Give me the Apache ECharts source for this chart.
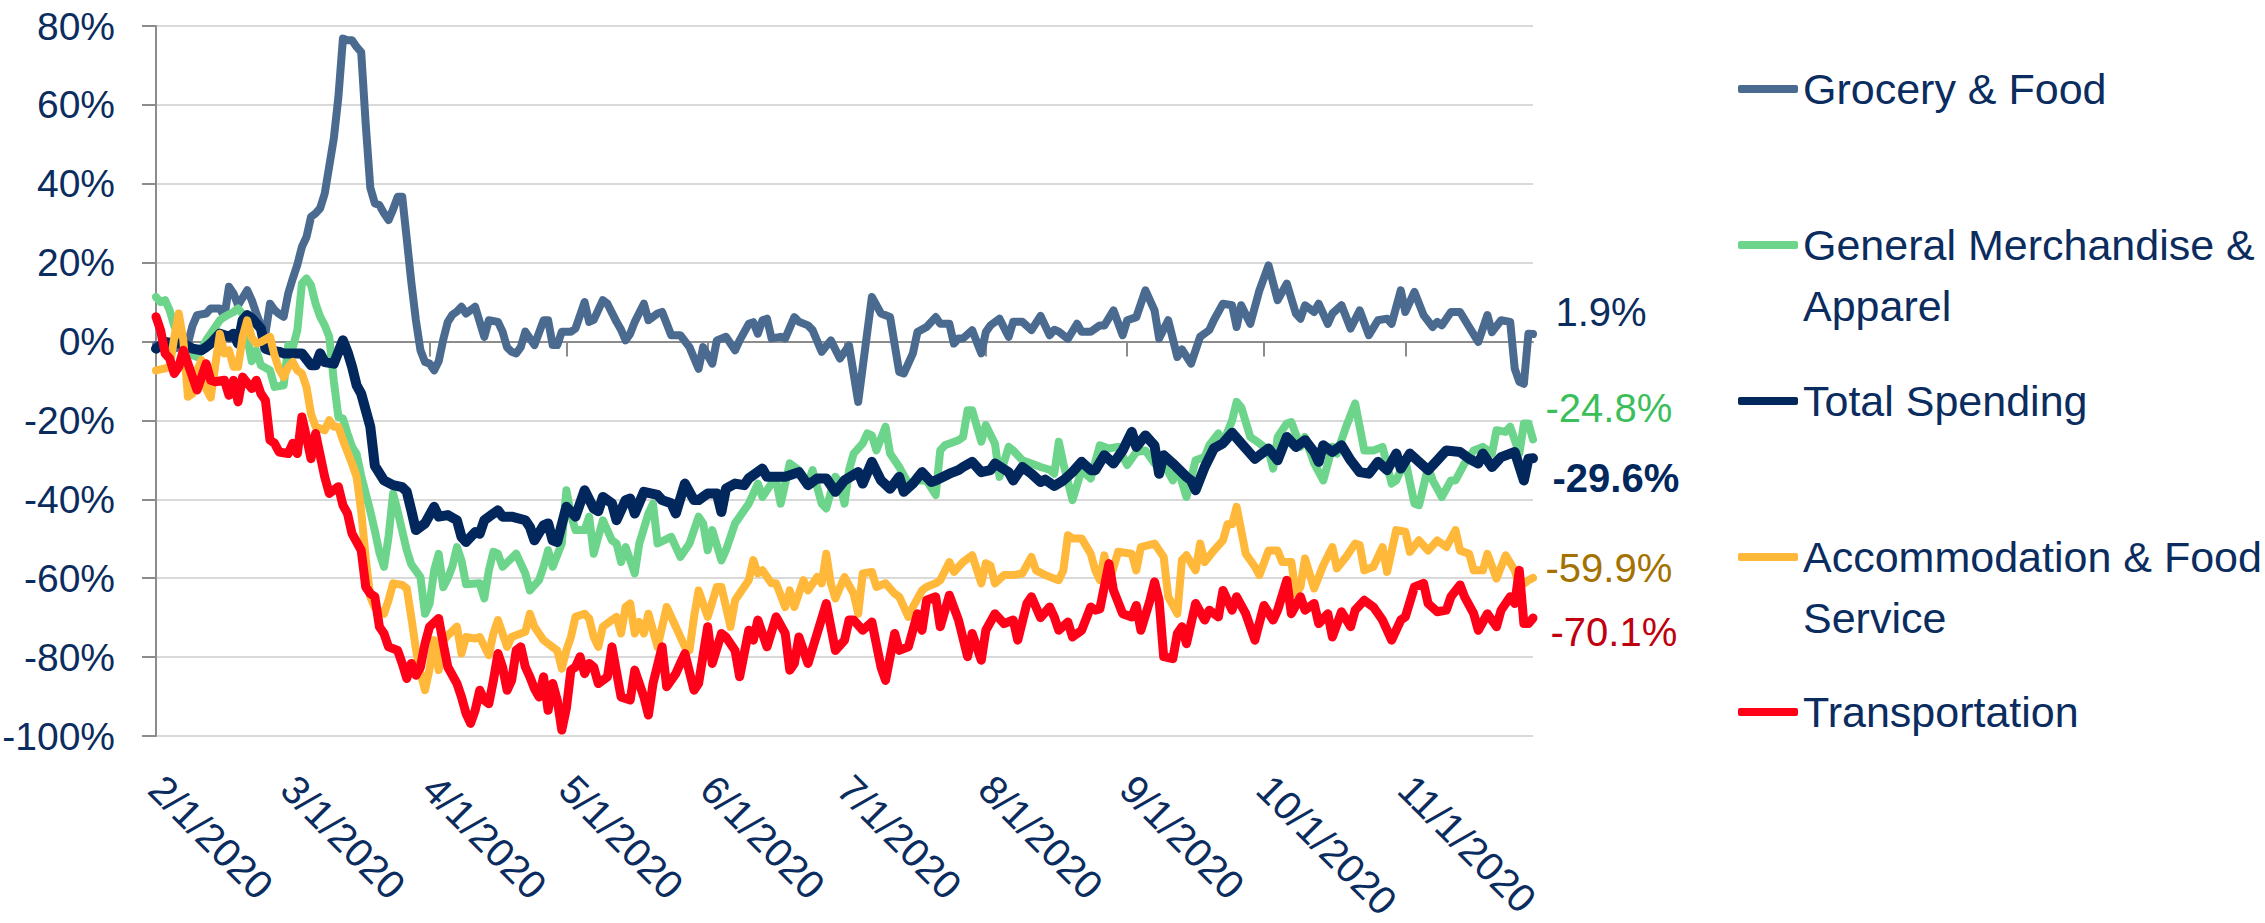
<!DOCTYPE html>
<html>
<head>
<meta charset="utf-8">
<script src="https://cdn.jsdelivr.net/npm/echarts@6/dist/echarts.min.js"></script>
<style>
html,body{margin:0;padding:0;background:#ffffff;}
#chart{width:2265px;height:923px;}
</style>
</head>
<body>
<div id="chart"></div>
<script>
// x values = days since 2/1/2020
const seriesNames = ['Grocery & Food', 'General Merchandise & Apparel', 'Total Spending', 'Accommodation & Food Service', 'Transportation'];
const legendLines = [['Grocery & Food'], ['General Merchandise &', 'Apparel'], ['Total Spending'], ['Accommodation & Food', 'Service'], ['Transportation']];
const tickDays = [0, 29, 60, 90, 121, 151, 182, 213, 243, 274];
const tickLabels = ['2/1/2020', '3/1/2020', '4/1/2020', '5/1/2020', '6/1/2020', '7/1/2020', '8/1/2020', '9/1/2020', '10/1/2020', '11/1/2020'];
const lastDay = 302;

const grocery = [[0,-0.9],[2,-1.2],[4,-1.8],[6,-1.0],[7,-0.5],[8,4.0],[9,6.7],[11,7.1],[12,8.4],[14,8.4],[15,6.3],[16,13.9],[17,12.2],[18,9.2],[20,13.0],[21,10.5],[22,7.1],[23,4.1],[24,2.0],[25,9.6],[26,8.0],[27,7.0],[28,6.3],[29,12.2],[30,16.0],[31,19.5],[32,24.0],[33,26.5],[34,31.6],[35,32.5],[36,33.8],[37,37.5],[38,44.5],[39,51.5],[40,62.0],[41,76.8],[42,76.4],[43,76.4],[44,74.7],[45,73.4],[46,55.0],[47,39.0],[48,35.0],[49,34.6],[50,32.5],[51,30.8],[52,33.5],[53,36.7],[54,36.7],[55,26.0],[56,15.0],[57,5.4],[58,-2.2],[59,-5.2],[60,-5.6],[61,-7.3],[62,-5.0],[63,0.5],[64,5.0],[65,6.8],[66,7.6],[67,8.8],[68,7.1],[70,8.8],[71,5.0],[72,1.2],[73,5.4],[75,5.0],[76,2.5],[77,-1.5],[78,-2.6],[79,-3.0],[80,-1.4],[81,2.5],[83,-0.9],[85,5.4],[86,5.4],[87,-0.9],[88,-0.9],[89,2.5],[91,2.5],[92,3.3],[94,10.0],[95,5.0],[96,5.5],[98,10.5],[99,9.6],[101,5.0],[102,3.0],[103,0.3],[104,2.0],[105,5.0],[107,9.6],[108,5.4],[110,7.1],[111,7.5],[113,1.6],[115,1.6],[117,-1.4],[119,-6.9],[120,-1.4],[122,-5.6],[123,0.3],[125,1.2],[127,-2.2],[128,0.3],[130,4.5],[131,4.9],[132,2.0],[133,5.4],[134,5.8],[135,0.8],[137,1.2],[138,0.8],[140,6.2],[141,5.0],[143,4.1],[144,2.9],[146,-2.6],[148,0.3],[150,-4.3],[152,-1.0],[154,-15.3],[157,11.3],[159,7.1],[161,6.2],[163,-7.7],[164,-8.1],[166,-3.0],[167,2.4],[169,3.7],[171,6.2],[172,4.5],[174,4.5],[175,-0.5],[176,0.8],[177,0.8],[179,2.9],[181,-3.0],[182,2.4],[183,4.1],[185,5.8],[187,1.2],[188,5.0],[190,5.0],[192,2.9],[194,6.5],[196,1.6],[197,3.0],[198,2.5],[200,0.7],[202,4.5],[203,2.5],[205,2.5],[207,4.1],[208,4.1],[210,7.9],[212,1.6],[213,5.4],[215,6.2],[217,13.0],[219,7.9],[220,0.8],[222,5.4],[224,-3.9],[225,-2.0],[227,-5.6],[229,1.2],[231,2.9],[232,5.4],[234,9.6],[236,9.2],[237,3.7],[238,9.2],[240,4.5],[242,13.0],[244,19.3],[246,10.5],[248,14.7],[250,7.1],[251,5.8],[252,9.2],[254,7.5],[255,9.6],[257,4.5],[258,7.1],[260,9.2],[262,3.3],[264,7.9],[266,1.6],[268,5.4],[270,5.8],[271,4.5],[273,13.0],[274,7.5],[276,12.6],[278,6.7],[280,3.7],[281,5.0],[282,4.1],[284,7.5],[286,7.5],[288,3.7],[290,-0.1],[292,6.7],[293,2.4],[295,5.4],[297,5.0],[298,-6.9],[299,-10.2],[300,-10.7],[301,2.0],[302,1.9]];

const generalMerch = [[0,11.3],[1,10.0],[2,10.5],[3,7.9],[4,4.0],[5,1.5],[6,-1.4],[7,-3.0],[9,-3.9],[11,0.3],[13,3.7],[14,5.4],[15,6.3],[17,7.5],[18,8.4],[19,7.0],[21,-5.0],[22,-2.2],[23,-6.0],[25,-7.3],[26,-11.5],[28,-11.1],[29,-1.0],[30,-1.5],[31,2.9],[32,14.7],[33,16.0],[34,14.3],[35,9.6],[36,6.3],[37,4.1],[38,1.2],[39,-10.0],[40,-19.1],[41,-19.5],[42,-23.3],[43,-26.7],[44,-28.5],[45,-34.0],[46,-38.5],[47,-43.0],[48,-48.0],[49,-53.5],[50,-57.1],[51,-49.5],[52,-38.5],[53,-43.0],[54,-48.0],[55,-52.9],[56,-56.5],[58,-59.7],[59,-69.0],[60,-66.5],[61,-58.0],[62,-53.8],[63,-62.3],[64,-60.0],[65,-57.0],[66,-52.1],[67,-55.5],[68,-61.5],[71,-61.3],[72,-65.1],[73,-58.0],[74,-53.3],[75,-53.8],[76,-57.1],[79,-53.8],[81,-58.8],[82,-63.1],[84,-60.5],[85,-57.1],[86,-52.9],[87,-57.1],[89,-51.2],[90,-37.7],[91,-44.0],[92,-47.8],[94,-47.8],[95,-44.4],[96,-53.8],[97,-49.5],[98,-45.3],[100,-50.4],[101,-51.2],[102,-55.9],[103,-52.1],[105,-58.8],[106,-51.2],[108,-43.6],[109,-41.1],[110,-51.2],[113,-49.5],[115,-54.6],[117,-51.2],[119,-44.4],[120,-46.1],[121,-52.9],[122,-47.8],[124,-55.5],[125,-52.9],[127,-46.1],[130,-41.1],[132,-36.0],[133,-39.4],[135,-36.0],[136,-35.2],[137,-41.1],[139,-30.9],[141,-32.6],[143,-36.0],[144,-32.6],[146,-41.1],[147,-42.3],[149,-34.3],[150,-36.0],[151,-41.1],[152,-32.6],[153,-28.4],[155,-25.8],[156,-23.3],[157,-23.8],[158,-27.6],[160,-21.6],[161,-28.4],[163,-31.8],[165,-36.0],[167,-35.2],[169,-35.2],[171,-38.9],[172,-27.6],[173,-26.3],[176,-25.0],[177,-24.2],[178,-17.4],[179,-17.4],[181,-25.4],[182,-21.2],[184,-25.9],[185,-34.3],[187,-26.7],[188,-27.6],[190,-30.1],[192,-30.9],[194,-31.8],[196,-32.5],[197,-33.5],[198,-25.4],[199,-30.9],[201,-40.2],[203,-32.6],[205,-34.7],[207,-26.3],[209,-27.1],[211,-26.7],[213,-31.3],[215,-28.0],[217,-27.6],[219,-30.9],[221,-30.9],[223,-35.2],[224,-31.8],[226,-39.4],[228,-30.1],[230,-29.3],[231,-26.3],[233,-23.3],[234,-25.8],[236,-20.0],[237,-15.3],[238,-16.6],[240,-24.2],[242,-25.8],[244,-27.6],[245,-32.2],[246,-24.2],[248,-20.8],[249,-20.4],[251,-26.7],[252,-24.2],[254,-30.9],[256,-35.2],[258,-26.7],[259,-28.4],[261,-21.6],[263,-15.7],[265,-27.6],[267,-27.6],[269,-26.7],[271,-36.0],[272,-35.2],[274,-30.1],[276,-41.1],[277,-41.5],[279,-31.8],[280,-35.2],[282,-39.4],[284,-35.2],[285,-35.2],[287,-30.9],[289,-27.6],[291,-26.7],[293,-28.4],[294,-22.5],[296,-22.9],[297,-21.6],[299,-28.4],[300,-20.8],[301,-20.8],[302,-24.8]];

const totalSpending = [[0,-1.8],[2,-0.1],[4,-0.5],[6,-0.5],[8,-1.8],[10,-2.2],[11,-1.4],[12,-0.5],[14,2.0],[16,1.2],[17,2.0],[18,-0.5],[19,5.4],[20,6.7],[21,5.9],[23,3.3],[24,-1.8],[25,-2.2],[27,-2.6],[28,-3.0],[30,-3.0],[32,-3.0],[34,-6.0],[35,-6.0],[36,-3.0],[37,-5.2],[39,-5.6],[41,0.3],[42,-2.6],[43,-6.4],[44,-11.1],[45,-13.2],[47,-21.6],[48,-31.5],[50,-35.2],[52,-36.4],[54,-36.9],[55,-38.1],[56,-42.8],[57,-47.8],[59,-46.1],[61,-41.9],[62,-44.4],[64,-44.0],[66,-45.3],[67,-49.5],[68,-50.8],[70,-48.3],[71,-48.7],[72,-45.3],[74,-43.6],[75,-42.8],[76,-44.4],[78,-44.4],[81,-45.3],[82,-47.0],[83,-50.4],[85,-46.6],[86,-46.1],[87,-50.4],[88,-50.8],[90,-41.9],[92,-44.4],[94,-37.7],[96,-42.3],[97,-43.0],[98,-39.4],[100,-41.0],[101,-45.3],[103,-40.2],[104,-39.8],[105,-43.6],[107,-38.1],[110,-38.9],[111,-40.2],[113,-41.0],[114,-43.6],[116,-36.0],[118,-40.2],[119,-40.2],[121,-38.5],[123,-38.5],[124,-43.2],[125,-37.3],[127,-36.0],[129,-36.4],[130,-34.7],[133,-32.2],[134,-34.3],[138,-34.3],[141,-33.1],[143,-36.4],[145,-34.7],[147,-34.7],[149,-38.1],[151,-35.2],[154,-33.1],[155,-36.0],[157,-30.5],[159,-35.2],[161,-37.3],[163,-34.3],[164,-38.1],[166,-36.0],[168,-33.1],[170,-35.6],[171,-35.2],[174,-33.5],[176,-32.6],[177,-31.8],[179,-30.5],[181,-33.1],[183,-32.6],[184,-30.9],[187,-33.1],[188,-35.2],[190,-31.8],[192,-33.5],[194,-35.6],[195,-35.0],[197,-36.6],[199,-35.2],[201,-33.1],[203,-30.5],[205,-32.6],[206,-32.6],[208,-28.8],[210,-30.9],[212,-27.6],[214,-22.9],[215,-26.7],[217,-23.8],[219,-26.4],[220,-33.5],[221,-28.8],[223,-30.9],[226,-34.3],[227,-35.2],[228,-37.7],[230,-31.8],[232,-27.1],[234,-25.8],[236,-23.1],[238,-25.8],[241,-29.7],[244,-27.1],[246,-30.1],[248,-24.2],[250,-26.7],[252,-25.0],[254,-28.0],[255,-30.5],[256,-26.3],[258,-28.0],[260,-26.3],[262,-30.1],[264,-33.1],[266,-33.5],[268,-30.5],[270,-32.6],[272,-28.4],[273,-32.2],[275,-28.4],[277,-30.5],[279,-32.6],[281,-30.1],[283,-27.6],[286,-28.0],[288,-29.7],[290,-30.9],[291,-28.4],[293,-31.8],[295,-29.3],[298,-28.0],[300,-35.2],[301,-29.7],[302,-29.6]];

const accommodation = [[0,-7.3],[2,-6.8],[3,-6.4],[4,1.0],[5,7.1],[6,0.3],[7,-14.0],[8,-13.2],[9,-7.3],[10,-4.7],[11,-12.0],[12,-14.2],[13,-6.0],[14,2.0],[15,-3.0],[16,-2.2],[17,-6.4],[18,-6.4],[19,1.2],[20,5.4],[21,1.0],[22,-0.5],[23,-0.1],[25,1.2],[26,-3.5],[27,-7.0],[28,-9.0],[29,-6.5],[30,-5.2],[31,-7.3],[32,-8.1],[33,-11.5],[34,-18.3],[35,-21.6],[37,-22.5],[38,-19.9],[39,-21.6],[40,-21.6],[41,-25.0],[43,-31.0],[44,-34.3],[45,-43.0],[46,-55.0],[47,-64.7],[48,-67.5],[50,-69.0],[51,-65.6],[52,-61.3],[54,-61.7],[55,-62.6],[56,-70.0],[57,-78.0],[58,-84.0],[59,-88.4],[60,-83.0],[61,-75.7],[62,-83.3],[63,-76.0],[64,-74.5],[66,-72.3],[67,-79.1],[68,-74.9],[70,-75.3],[71,-74.9],[73,-79.5],[74,-74.0],[75,-70.6],[77,-77.4],[78,-74.9],[81,-73.6],[82,-69.0],[83,-72.3],[85,-75.7],[86,-76.6],[88,-78.3],[89,-82.9],[90,-78.3],[91,-74.9],[92,-69.8],[94,-69.0],[95,-70.2],[96,-74.9],[97,-77.4],[98,-72.3],[100,-70.6],[101,-69.8],[102,-74.0],[103,-67.3],[104,-66.4],[105,-74.0],[106,-71.1],[107,-74.0],[108,-69.0],[110,-77.4],[112,-67.3],[114,-72.3],[116,-77.4],[117,-78.3],[118,-69.8],[119,-63.1],[121,-69.8],[123,-62.2],[124,-62.2],[126,-72.3],[127,-65.6],[128,-63.9],[130,-60.5],[131,-55.4],[132,-58.8],[133,-58.0],[135,-61.3],[136,-61.3],[138,-67.3],[139,-63.1],[140,-67.3],[142,-60.5],[143,-63.1],[145,-59.7],[146,-61.3],[147,-53.8],[148,-61.3],[149,-65.1],[151,-59.7],[153,-63.9],[154,-69.0],[155,-58.8],[157,-58.4],[158,-62.2],[160,-61.3],[162,-63.9],[163,-64.7],[165,-69.8],[166,-67.3],[168,-63.1],[169,-62.2],[171,-61.3],[172,-60.5],[174,-55.9],[175,-58.4],[177,-55.9],[179,-54.2],[181,-61.3],[182,-56.2],[183,-56.8],[184,-61.3],[186,-59.2],[188,-59.2],[190,-58.8],[192,-54.6],[193,-58.0],[195,-59.2],[197,-60.1],[198,-60.5],[199,-58.0],[200,-49.1],[201,-49.9],[203,-49.9],[205,-53.8],[206,-58.0],[207,-60.5],[208,-54.2],[209,-61.3],[211,-53.3],[214,-53.8],[215,-58.0],[216,-52.1],[219,-51.2],[221,-54.6],[222,-64.7],[224,-69.0],[225,-55.4],[226,-54.2],[228,-58.0],[229,-51.2],[230,-55.9],[232,-53.0],[234,-50.4],[235,-46.3],[236,-46.3],[237,-41.9],[239,-53.8],[241,-57.1],[242,-59.2],[244,-53.0],[246,-53.0],[247,-55.9],[249,-55.9],[250,-64.0],[251,-62.2],[252,-55.0],[254,-62.6],[256,-56.7],[258,-52.1],[259,-57.5],[261,-54.6],[263,-51.2],[264,-51.6],[265,-58.0],[267,-57.1],[269,-52.1],[270,-58.4],[272,-47.8],[274,-48.2],[275,-53.3],[277,-50.4],[279,-53.0],[281,-50.4],[283,-52.1],[285,-47.8],[286,-53.0],[288,-53.8],[289,-58.0],[291,-58.0],[292,-53.8],[294,-60.1],[296,-54.2],[298,-58.0],[299,-62.2],[301,-60.5],[302,-59.9]];

const transportation = [[0,6.3],[1,2.9],[2,-3.0],[3,-4.3],[4,-8.1],[5,-6.4],[6,-2.2],[7,-5.6],[9,-12.3],[10,-9.0],[11,-5.6],[12,-9.8],[13,-10.2],[15,-9.8],[16,-13.6],[17,-9.8],[18,-15.3],[19,-9.0],[21,-11.9],[22,-9.8],[23,-13.2],[24,-14.9],[25,-25.0],[26,-25.8],[27,-28.0],[29,-28.4],[30,-25.8],[31,-28.4],[32,-19.1],[33,-24.2],[34,-29.7],[35,-23.3],[37,-34.3],[38,-38.5],[40,-36.8],[41,-41.5],[42,-43.6],[43,-48.7],[45,-52.9],[46,-62.2],[47,-63.9],[48,-64.7],[49,-72.3],[50,-74.0],[51,-77.4],[53,-78.3],[54,-81.6],[55,-85.4],[56,-81.6],[57,-84.6],[58,-82.5],[59,-76.6],[60,-72.3],[62,-70.2],[63,-76.6],[64,-82.5],[66,-86.7],[67,-90.1],[68,-94.3],[69,-96.8],[70,-93.5],[71,-88.4],[72,-90.9],[73,-91.8],[74,-85.9],[75,-79.1],[76,-82.5],[77,-88.4],[78,-85.9],[79,-78.3],[80,-77.4],[81,-82.5],[82,-85.0],[83,-88.0],[84,-90.1],[85,-85.0],[86,-93.5],[87,-86.7],[88,-90.9],[89,-98.5],[90,-93.0],[91,-83.3],[92,-82.5],[93,-79.9],[94,-84.2],[95,-81.6],[96,-82.5],[97,-86.7],[99,-85.0],[100,-77.4],[102,-90.1],[104,-90.9],[105,-83.3],[107,-90.1],[108,-94.7],[109,-86.7],[111,-77.4],[112,-87.5],[114,-84.2],[115,-81.6],[116,-79.1],[118,-88.4],[119,-86.7],[121,-72.3],[122,-81.6],[124,-74.0],[125,-74.9],[127,-78.3],[128,-85.0],[130,-73.2],[131,-75.7],[132,-70.6],[134,-77.4],[136,-69.8],[138,-74.0],[139,-83.3],[140,-81.6],[141,-74.9],[143,-81.6],[145,-74.0],[147,-66.4],[149,-78.3],[151,-75.7],[152,-70.6],[153,-70.6],[155,-73.2],[157,-71.1],[159,-82.5],[160,-85.9],[162,-74.0],[163,-78.3],[165,-77.4],[167,-69.0],[168,-73.2],[169,-65.6],[171,-64.7],[172,-72.3],[174,-64.3],[176,-70.6],[178,-79.9],[179,-74.0],[181,-80.8],[182,-73.2],[184,-69.0],[186,-71.5],[188,-70.6],[189,-75.7],[191,-66.4],[192,-64.7],[194,-70.0],[196,-67.3],[197,-69.8],[198,-73.2],[200,-71.1],[201,-74.9],[203,-73.2],[205,-67.3],[206,-68.1],[207,-67.8],[209,-56.3],[210,-63.1],[212,-69.0],[214,-69.8],[215,-66.9],[216,-73.2],[218,-65.6],[219,-60.9],[220,-65.6],[221,-79.9],[223,-80.4],[224,-74.0],[225,-72.3],[226,-76.6],[228,-66.4],[230,-70.6],[231,-68.1],[233,-69.8],[234,-63.1],[236,-68.1],[237,-64.7],[239,-69.0],[241,-75.7],[243,-66.9],[245,-70.6],[246,-68.1],[248,-60.5],[249,-69.0],[251,-64.7],[252,-68.1],[254,-66.4],[255,-71.5],[257,-69.0],[258,-74.9],[260,-68.5],[262,-72.3],[263,-68.1],[265,-65.6],[267,-67.3],[269,-70.6],[271,-75.7],[273,-70.6],[274,-69.8],[276,-62.2],[278,-61.3],[279,-66.4],[281,-68.5],[283,-68.1],[284,-64.7],[286,-61.7],[287,-64.7],[289,-69.0],[290,-73.2],[292,-69.0],[294,-72.3],[295,-68.1],[297,-64.7],[298,-66.4],[299,-58.0],[300,-71.5],[301,-71.5],[302,-70.1]];

const seriesData = [grocery, generalMerch, totalSpending, accommodation, transportation];

// styles
const FONT = "'Liberation Sans',Arial,sans-serif";
const NAVY = '#0B2C5E';
const lineColors = ['#4B6A90', '#6DD58B', '#02275C', '#FFB83A', '#FF0019'];
const lineWidths = [8, 8, 10, 8, 9];
const endLabelColors = ['#0B2C5E', '#3CBF5B', '#02275C', '#A37200', '#C0000F'];
const endLabelWeights = ['normal', 'normal', 'bold', 'normal', 'normal'];
const endLabelOffsets = [[22, -22], [12, -31], [19, 20], [12, -10], [17, 14]];
const legendTops = [58.5, 153.5, 370.5, 465.5, 681.5];
const AXIS_GREY = '#8C8C8C';

const chart = echarts.init(document.getElementById('chart'), null, { renderer: 'svg' });

const option = {
  animation: false,
  backgroundColor: '#ffffff',
  grid: { left: 156, right: 732, top: 26, bottom: 187, containLabel: false, outerBoundsMode: 'none' },
  legend: seriesNames.map((name, i) => ({
    data: [name],
    left: 1738,
    top: legendTops[i],
    padding: 0,
    orient: 'vertical',
    icon: 'roundRect',
    itemWidth: 60,
    itemHeight: 8,
    selectedMode: false,
    // two-line items get a blank first line so that the icon sits on the first text line
    formatter: () => legendLines[i].length > 1 ? ' \n' + legendLines[i].join('\n') : legendLines[i][0],
    textStyle: { fontFamily: FONT, fontSize: 43, lineHeight: 61, color: NAVY }
  })),
  xAxis: [
    {
      type: 'value', min: 0, max: lastDay, position: 'bottom',
      axisLine: { show: true, onZero: true, lineStyle: { color: AXIS_GREY, width: 2 } },
      axisTick: { show: true, customValues: tickDays, length: 15, lineStyle: { color: AXIS_GREY, width: 2 } },
      axisLabel: { show: false },
      splitLine: { show: false }
    },
    {
      type: 'value', min: 0, max: lastDay, position: 'bottom',
      axisLine: { show: false, onZero: false },
      axisTick: { show: false },
      splitLine: { show: false },
      axisLabel: {
        show: true, customValues: tickDays, rotate: -45, margin: 46, padding: [14, 0, 0, 0],
        fontFamily: FONT, fontSize: 40, color: NAVY,
        formatter: (v) => { const k = tickDays.indexOf(v); return k >= 0 ? tickLabels[k] : ''; }
      }
    }
  ],
  yAxis: {
    type: 'value', min: -100, max: 80, interval: 20,
    axisLine: { show: true, lineStyle: { color: AXIS_GREY, width: 2 } },
    axisTick: { show: true, length: 14, lineStyle: { color: AXIS_GREY, width: 2 } },
    axisLabel: { formatter: '{value}%', fontFamily: FONT, fontSize: 39, color: NAVY, margin: 41 },
    splitLine: { show: true, lineStyle: { color: '#D9D9D9', width: 2 } }
  },
  series: seriesNames.map((name, i) => {
    const d = seriesData[i];
    const last = d[d.length - 1];
    return {
      type: 'line', name: name, data: d, xAxisIndex: 0, yAxisIndex: 0,
      symbol: 'none', showSymbol: false, smooth: false, silent: true,
      lineStyle: { color: lineColors[i], width: lineWidths[i], cap: 'round', join: 'round' },
      itemStyle: { color: lineColors[i] },
      z: 2 + i,
      markPoint: {
        symbol: 'circle', symbolSize: 1, silent: true,
        itemStyle: { color: 'rgba(0,0,0,0)' },
        data: [{ coord: [last[0], last[1]], value: last[1] }],
        label: {
          show: true, position: 'right', distance: 0, offset: endLabelOffsets[i],
          formatter: (p) => p.value.toFixed(1) + '%',
          fontFamily: FONT, fontSize: 40, color: endLabelColors[i], fontWeight: endLabelWeights[i]
        }
      }
    };
  })
};

chart.setOption(option);
</script>
</body>
</html>
